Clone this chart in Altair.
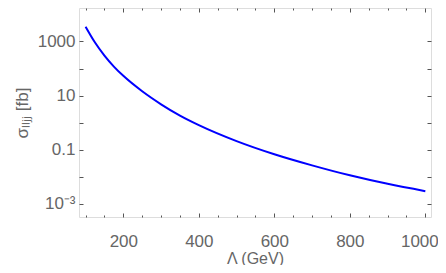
import altair as alt
import pandas as pd

# Data
lam = [100, 125, 150, 175, 200, 250, 300, 350, 400, 500, 600, 700, 800, 900, 1000]
sigma = [3500, 910, 300, 118, 53.5, 14.4, 4.76, 1.82, 0.81, 0.208, 0.068, 0.0264, 0.0113, 0.00547, 0.00294]

x_major = [200, 400, 600, 800, 1000]
x_minor = [100, 150, 250, 300, 350, 450, 500, 550, 650, 700, 750, 850, 900, 950]
y_label_values = [1000, 10, 0.1, 0.001]
y_label_texts = ["1000", "10", "0.1", "10\u207b\u00b3"]
y_ticks = [0.001, 0.01, 0.1, 1, 10, 100, 1000]

df = pd.DataFrame({"lam": lam, "sigma": sigma})

W, H = 352, 209
FONT = "Liberation Sans"
GRAY = "#666666"
TICK = "#555555"

x_scale = alt.Scale(domain=[82.6, 1015], nice=False, zero=False)
y_scale = alt.Scale(type="log", domain=[3.26e-4, 17200], nice=False)

label_expr = " : ".join(
    [f"datum.value == {v} ? '{t}'" for v, t in zip(y_label_values, y_label_texts)]
) + " : ''"

base = alt.Chart(df)

line = base.mark_line(color="#0000ff", strokeWidth=2, interpolate="monotone").encode(
    x=alt.X("lam:Q", scale=x_scale,
            axis=alt.Axis(orient="bottom", values=x_major, ticks=False, tickSize=0,
                          domain=False, grid=False, labelFontSize=17, labelFont=FONT,
                          labelColor=GRAY, labelPadding=16, title="\u039b (GeV)",
                          labelOffset={"condition": {"test": "datum.value == 1000", "value": -6},
                                       "value": 0},
                          titleFont=FONT, titleFontSize=16, titleColor=GRAY,
                          titleFontWeight="normal", titlePadding=1, format="d")),
    y=alt.Y("sigma:Q", scale=y_scale,
            axis=alt.Axis(orient="left", values=y_label_values, ticks=False, tickSize=0,
                          domain=False, grid=False, labelFontSize=17, labelFont=FONT,
                          labelColor=GRAY, labelPadding=4, labelExpr=label_expr,
                          title="\u03c3\u2097\u2097\u2c7c\u2c7c [fb]", titleFont=FONT,
                          titleFontSize=17, titleColor=GRAY, titleFontWeight="normal",
                          titlePadding=6)),
)

def tick_layer(x_orient, x_vals, x_size, y_axis):
    return base.mark_point(opacity=0).encode(
        x=alt.X("lam:Q", scale=x_scale,
                axis=alt.Axis(orient=x_orient, offset=-H, values=x_vals, tickSize=x_size,
                              tickColor=TICK, tickWidth=1, labels=False, domain=False,
                              grid=False, title="")),
        y=alt.Y("sigma:Q", scale=y_scale, axis=y_axis),
    )

y_in_left = alt.Axis(orient="right", offset=-W, values=y_ticks, tickSize=4, tickColor=TICK,
                     tickWidth=1, labels=False, domain=False, grid=False, title="")
y_in_right = alt.Axis(orient="left", offset=-W, values=y_ticks, tickSize=4, tickColor=TICK,
                      tickWidth=1, labels=False, domain=False, grid=False, title="")

l2 = tick_layer("top", x_major, 4, y_in_left)
l3 = tick_layer("top", x_minor, 2, y_in_right)
l4 = tick_layer("bottom", x_major, 4, None)
l5 = tick_layer("bottom", x_minor, 2, None)

chart = (
    alt.layer(line, l2, l3, l4, l5)
    .resolve_axis(x="independent", y="independent")
    .properties(width=W, height=H,
                autosize=alt.AutoSizeParams(type="none"),
                padding={"left": 71, "top": 0, "right": 7, "bottom": 48})
    .configure_view(stroke="#222222", strokeWidth=1.2)
    .configure(background="white")
)

chart.save("out.html", embed_options={"renderer": "svg", "actions": False})
